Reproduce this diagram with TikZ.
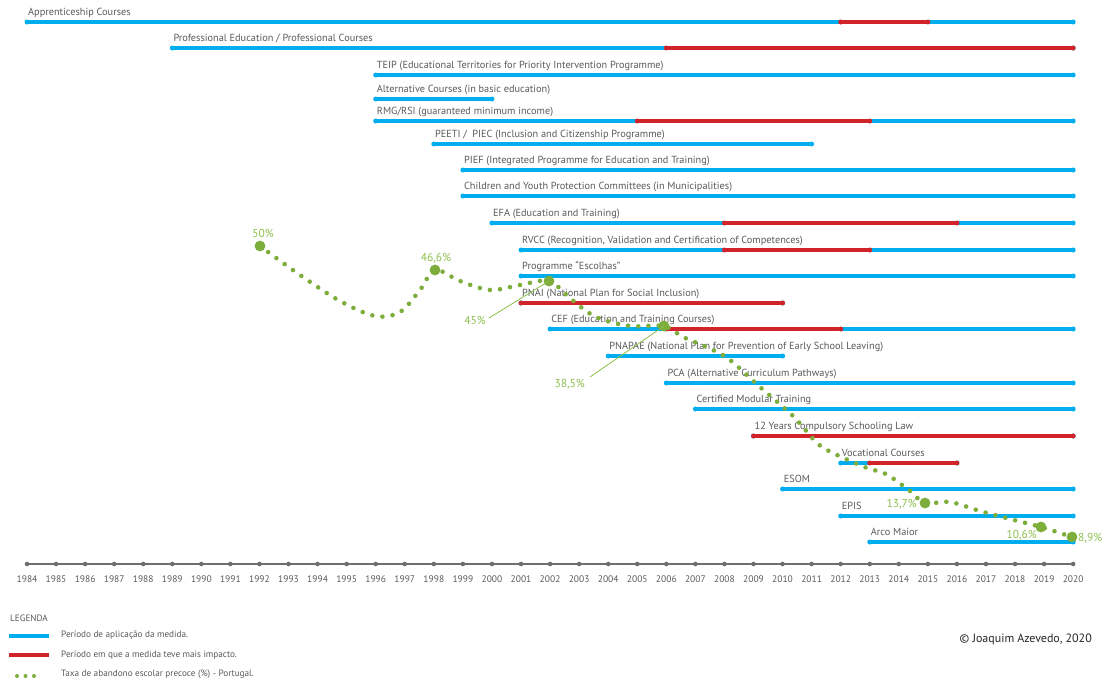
\documentclass[tikz,border=0pt]{standalone}
\usepackage{fontspec}
\setmainfont{PT Sans}
\usepackage{xcolor}
\usetikzlibrary{calc}

\definecolor{barblue}{HTML}{00AEEF}
\definecolor{barred}{HTML}{D2232A}
\definecolor{rategreen}{HTML}{7DAE3C}
\definecolor{pctgreen}{HTML}{8DBF4C}
\definecolor{txtgray}{HTML}{58595B}
\definecolor{axisgray}{HTML}{6D6E71}

\begin{document}
\begin{tikzpicture}[x=1pt, y=-1pt,
    bar/.style={line width=3.2pt},
    lbl/.style={anchor=base west, inner sep=0pt, text=txtgray, font=\fontsize{10.3}{12}\selectfont},
    yearlbl/.style={anchor=base, inner sep=0pt, text=txtgray, font=\fontsize{9.5}{11}\selectfont},
    pct/.style={anchor=base, inner sep=0pt, text=pctgreen, font=\fontsize{11.5}{13}\selectfont},
    legtxt/.style={anchor=base west, inner sep=0pt, text=txtgray, font=\fontsize{9.2}{10}\selectfont}]
    \useasboundingbox (0,0) rectangle (1109,681);

    % time axis
    \coordinate (ax-s) at (27,564);
    \coordinate (ax-e) at (1073,564);
    \draw[axisgray, line width=1.2pt] (ax-s) -- (ax-e);
    \foreach \yr in {1984,...,2020} {
        \pgfmathsetmacro\xx{27+29.06*(\yr-1984)}
        \fill[axisgray] (\xx,564) circle (2.3);
        \node[yearlbl] (y\yr) at (\xx,582) {\yr};
    }

    % measures (application period)
    \foreach \nm/\a/\b/\yy/\txt in {
        appr/1984/2020/22/{Apprenticeship Courses},
        prof/1989/2020/48/{Professional Education / Professional Courses},
        teip/1996/2020/75/{TEIP (Educational Territories for Priority Intervention Programme)},
        alt/1996/2000/99/{Alternative Courses (in basic education)},
        rmg/1996/2020/121/{RMG/RSI (guaranteed minimum income)},
        peeti/1998/2011/144/{PEETI /\ \ PIEC (Inclusion and Citizenship Programme)},
        pief/1999/2020/170/{PIEF (Integrated Programme for Education and Training)},
        cpcj/1999/2020/196/{Children and Youth Protection Committees (in Municipalities)},
        efa/2000/2020/223/{EFA (Education and Training)},
        rvcc/2001/2020/250/{RVCC (Recognition, Validation and Certification of Competences)},
        esc/2001/2020/276/{Programme “Escolhas”},
        pnai/2001/2010/303/{PNAI (National Plan for Social Inclusion)},
        cef/2002/2020/329/{CEF (Education and Training Courses)},
        pnapae/2004/2010/356/{PNAPAE (National Plan for Prevention of Early School Leaving)},
        pca/2006/2020/383/{PCA (Alternative Curriculum Pathways)},
        cmt/2007/2020/409/{Certified Modular Training},
        law/2009/2020/436/{12 Years Compulsory Schooling Law},
        voc/2012/2016/463/{Vocational Courses},
        esom/2010/2020/489/{ESOM},
        epis/2012/2020/516/{EPIS},
        arco/2013/2020/542/{Arco Maior}} {
        \pgfmathsetmacro\xa{27+29.06*(\a-1984)}
        \pgfmathsetmacro\xb{27+29.06*(\b-1984)}
        \coordinate (\nm-s) at (\xa,\yy);
        \coordinate (\nm-e) at (\xb,\yy);
        \draw[bar, barblue] (\nm-s) -- (\nm-e);
        \fill[barblue] (\nm-s) circle (2.5) (\nm-e) circle (2.5);
        \node[lbl] (\nm) at (\xa+1,\yy-6.5) {\txt};
    }

    % period of most impact
    \foreach \nm/\a/\b/\yy in {appr/2012/2015/22, prof/2006/2020/48, rmg/2005/2013/121,
        efa/2008/2016/223, rvcc/2008/2013/250, pnai/2001/2010/303, cef/2006/2012/329,
        law/2009/2020/436, voc/2013/2016/463} {
        \pgfmathsetmacro\xa{27+29.06*(\a-1984)}
        \pgfmathsetmacro\xb{27+29.06*(\b-1984)}
        \coordinate (\nm-rs) at (\xa,\yy);
        \coordinate (\nm-re) at (\xb,\yy);
        \draw[bar, barred] (\nm-rs) -- (\nm-re);
        \fill[barred] (\nm-rs) circle (2.5) (\nm-re) circle (2.5);
    }

    % early school leaving rate
    \draw[rategreen, line width=4.6pt, line cap=round, dash pattern=on 0pt off 10.2pt]
        plot[smooth, tension=0.55] coordinates {(260,246) (300,275) (340,301) (375,316)
        (400,312) (420,290) (435,270) (460,281) (490,290) (520,285) (549,281) (571,299)
        (596,317) (630,326) (664,326) (683,337) (711,349) (730,360) (760,387) (793,416)
        (817,443) (835,454) (867,468) (886,474) (910,491) (925,503) (950,502) (980,511)
        (1010,519) (1041,527) (1072,537)};
    \foreach \nm/\px/\py in {r1992/260/246, r1998/435/270, r2002/549/281, r2006/664/326,
        r2015/925/503, r2019/1041/527, r2020/1072/537} {
        \coordinate (\nm) at (\px,\py);
        \fill[rategreen] (\nm) circle (5.4);
    }
    \node[pct] (p1992) at (263,237) {50\%};
    \node[pct] (p1998) at (436,261) {46,6\%};
    \node[pct, anchor=base east] (p2002) at (486,324) {45\%};
    \node[pct, anchor=base east] (p2006) at (585,387) {38,5\%};
    \node[pct, anchor=base east] (p2015) at (917,507) {13,7\%};
    \node[pct, anchor=base east] (p2019) at (1037,538) {10,6\%};
    \node[pct, anchor=base west] (p2020) at (1078,541) {8,9\%};
    \coordinate (lead45) at (489,318);
    \coordinate (lead38) at (590,377);
    \draw[pctgreen, line width=0.8pt] (lead45) -- (r2002);
    \draw[pctgreen, line width=0.8pt] (lead38) -- (r2006);

    % legend
    \node[legtxt] (leg) at (10,621) {LEGENDA};
    \coordinate (lb-s) at (9,636);
    \coordinate (lb-e) at (49,636);
    \draw[bar, barblue] (lb-s) -- (lb-e);
    \node[legtxt] (leg1) at (61,637.3) {Período de aplicação da medida.};
    \coordinate (lr-s) at (9,655);
    \coordinate (lr-e) at (49,655);
    \draw[bar, barred] (lr-s) -- (lr-e);
    \node[legtxt] (leg2) at (61,657.3) {Período em que a medida teve mais impacto.};
    \foreach \px in {17,25.5,34} \fill[rategreen] (\px,676) circle (2);
    \node[legtxt] (leg3) at (61,676.7) {Taxa de abandono escolar precoce (\%) - Portugal.};

    \node[anchor=base east, inner sep=0pt, font=\fontsize{12}{14}\selectfont, text=black!85] (copy) at (1092,642) {© Joaquim Azevedo, 2020};
\end{tikzpicture}
\end{document}
